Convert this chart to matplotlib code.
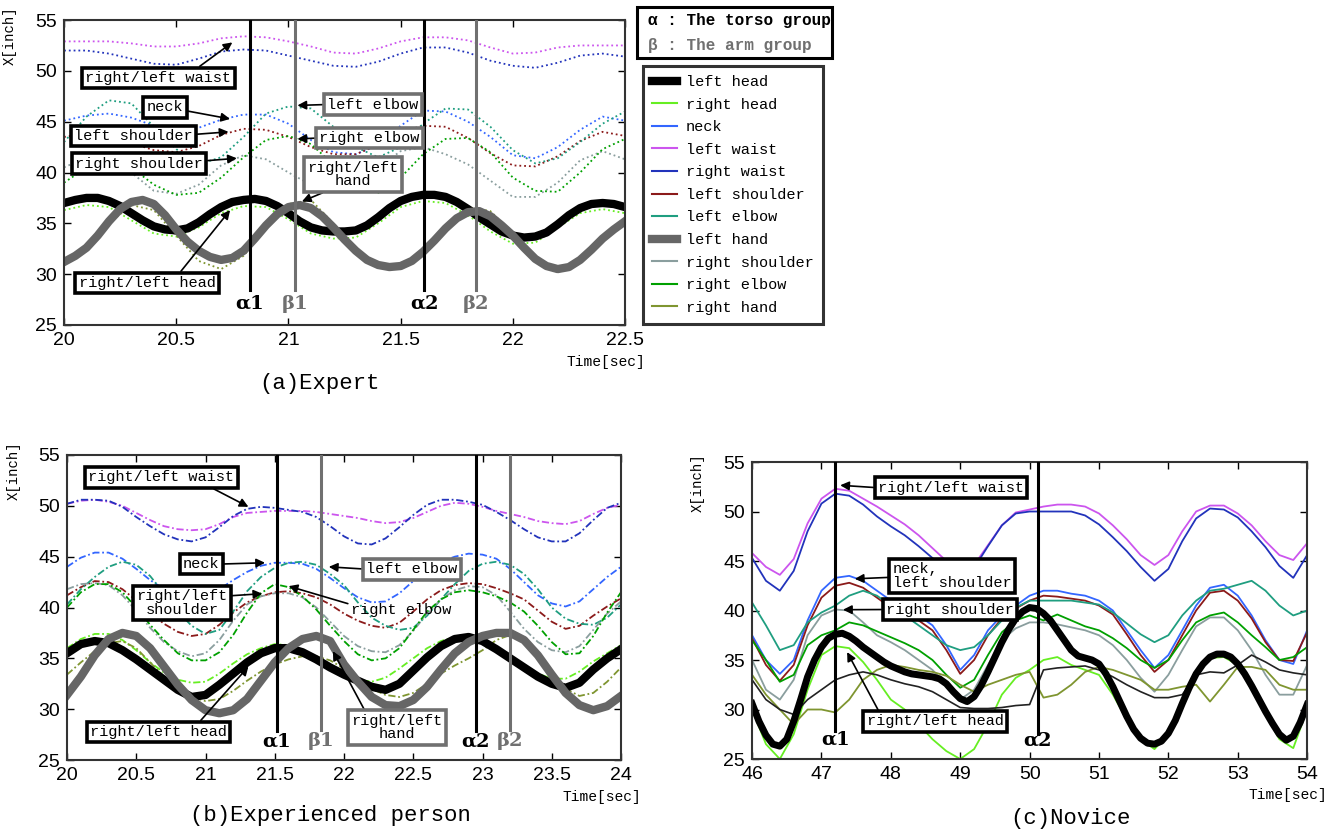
import numpy as np
import matplotlib.pyplot as plt
from matplotlib.lines import Line2D
from matplotlib.patches import Rectangle

MONO = ['Liberation Mono', 'DejaVu Sans Mono']
NARROW = ['Liberation Sans Narrow', 'Liberation Sans', 'DejaVu Sans']
plt.rcParams['font.family'] = NARROW

# ---- (a) Expert, thin curves sampled every 0.1 s, thick ones every 0.05 s ----
a_time = np.linspace(20.0, 22.5, 26)
a_time_fine = np.linspace(20.0, 22.5, 51)
a_left_head = [37.0, 37.3, 37.5, 37.5, 37.2, 36.7, 36.0, 35.3, 34.7, 34.4, 34.3, 34.5, 35.1,
               35.9, 36.6, 37.1, 37.3, 37.4, 37.2, 36.7, 36.0, 35.2, 34.6, 34.3, 34.2, 34.2,
               34.3, 34.8, 35.6, 36.5, 37.2, 37.6, 37.8, 37.8, 37.6, 37.1, 36.4, 35.6, 34.9,
               34.2, 33.8, 33.6, 33.7, 34.1, 34.9, 35.8, 36.5, 36.9, 37.0, 36.9, 36.6]
a_left_hand = [31.2, 31.8, 32.6, 33.8, 35.2, 36.4, 37.1, 37.3, 36.9, 35.8, 34.4, 33.2, 32.3,
               31.7, 31.4, 31.6, 32.3, 33.5, 34.8, 35.9, 36.6, 36.8, 36.5, 35.7, 34.6, 33.4,
               32.3, 31.4, 30.9, 30.7, 30.8, 31.3, 32.2, 33.3, 34.5, 35.5, 36.1, 36.2, 35.7,
               34.8, 33.8, 32.6, 31.5, 30.8, 30.5, 30.7, 31.4, 32.4, 33.5, 34.4, 35.2]
a_right_head = [36.3, 36.8, 36.6, 35.3, 34.0, 33.7, 34.6, 36.0, 36.7, 36.6, 35.4, 34.0, 33.5,
                33.6, 35.0, 36.6, 37.2, 37.0, 35.8, 34.2, 33.0, 33.1, 34.6, 36.0, 36.4, 36.0]
a_neck = [45.1, 45.6, 45.8, 45.4, 44.6, 44.1, 44.4, 45.2, 45.7, 45.7, 44.8, 43.2, 42.0,
          41.8, 42.7, 44.6, 46.1, 46.0, 45.0, 43.5, 41.7, 41.4, 42.5, 44.2, 45.5, 45.1]
a_left_waist = [52.9, 52.9, 52.9, 52.7, 52.4, 52.4, 52.7, 53.2, 53.4, 53.3, 52.9, 52.4, 51.8,
                51.7, 52.2, 52.9, 53.3, 53.3, 53.0, 52.3, 51.7, 51.8, 52.3, 52.5, 52.5, 52.5]
a_right_waist = [52.0, 52.0, 51.7, 51.2, 50.7, 50.6, 51.2, 51.9, 52.1, 52.0, 51.5, 51.0, 50.5,
                 50.4, 50.9, 51.7, 52.3, 52.3, 51.8, 51.0, 50.5, 50.3, 50.8, 51.5, 51.7, 51.4]
a_left_shoulder = [43.5, 43.8, 43.6, 42.9, 42.2, 42.0, 42.6, 43.7, 44.3, 44.2, 43.5, 42.5, 41.8,
                   41.8, 42.7, 44.0, 44.6, 44.5, 43.4, 41.9, 40.7, 40.6, 41.6, 43.1, 44.0, 43.6]
a_left_elbow = [43.0, 45.5, 47.1, 46.8, 44.5, 42.3, 40.8, 41.5, 43.5, 45.8, 46.5, 46.3, 44.5,
                42.5, 41.5, 42.5, 44.8, 46.3, 46.2, 44.5, 42.2, 40.9, 41.4, 43.0, 44.8, 46.0]
a_right_shoulder = [40.5, 41.5, 41.3, 40.0, 38.2, 37.9, 38.8, 40.7, 41.7, 41.3, 40.0, 38.8, 38.5,
                    38.8, 40.5, 42.1, 42.5, 41.8, 40.8, 39.2, 37.6, 37.6, 39.0, 41.2, 42.1, 41.3]
a_right_elbow = [39.0, 40.5, 41.5, 40.5, 38.8, 37.8, 38.0, 39.5, 41.5, 43.2, 43.6, 42.8, 40.8,
                 38.8, 38.0, 39.5, 41.8, 43.3, 43.4, 42.0, 39.5, 38.2, 38.1, 40.0, 42.3, 43.3]
a_right_hand = [30.9, 32.5, 35.0, 36.8, 36.3, 33.8, 31.3, 30.5, 31.8, 34.6, 36.9, 37.3, 35.0,
                32.3, 30.6, 30.6, 32.0, 34.5, 36.6, 36.2, 34.0, 31.2, 30.2, 31.2, 33.3, 35.5]

# ---- (b) Experienced person, sampled every 0.1 s ----
b_time = np.linspace(20.0, 24.0, 41)
b_left_head = [35.5, 36.4, 36.7, 36.5, 35.8, 34.9, 33.9, 32.9, 31.9, 31.2,
               31.4, 32.4, 33.5, 34.6, 35.5, 36.0, 36.0, 35.6, 34.9, 34.1,
               33.4, 32.8, 32.2, 31.9, 32.5, 33.8, 35.1, 36.2, 36.9, 37.1,
               36.7, 35.9, 35.0, 34.1, 33.2, 32.5, 32.1, 32.6, 33.9, 35.0, 35.9]
b_right_head = [36.0, 36.9, 37.4, 37.4, 36.8, 35.8, 34.6, 33.6, 32.9, 32.6,
                32.7, 33.5, 34.5, 35.4, 36.0, 36.4, 36.3, 35.8, 35.0, 34.2,
                33.4, 32.9, 32.7, 33.1, 34.0, 35.0, 36.0, 36.7, 37.1, 37.2,
                36.8, 36.1, 35.2, 34.3, 33.5, 33.0, 33.0, 33.7, 34.7, 35.5, 36.3]
b_neck = [44.0, 44.9, 45.4, 45.4, 44.8, 43.8, 42.7, 41.8, 41.2, 41.0,
          41.2, 41.8, 42.7, 43.5, 44.1, 44.4, 44.4, 44.3, 43.8, 42.9,
          41.9, 41.0, 40.5, 40.6, 41.4, 42.6, 43.7, 44.5, 45.0, 45.3,
          45.2, 44.8, 43.8, 42.5, 41.2, 40.4, 40.1, 40.6, 41.8, 43.0, 44.0]
b_left_waist = [50.2, 50.5, 50.6, 50.4, 50.0, 49.3, 48.6, 48.0, 47.7, 47.6,
                47.7, 48.2, 48.9, 49.3, 49.4, 49.5, 49.5, 49.5, 49.4, 49.2,
                49.0, 48.8, 48.5, 48.3, 48.4, 48.8, 49.4, 50.0, 50.3, 50.2,
                49.9, 49.5, 49.2, 48.9, 48.5, 48.3, 48.2, 48.5, 49.2, 49.8, 50.1]
b_right_waist = [50.2, 50.6, 50.6, 50.5, 49.9, 48.9, 48.0, 47.2, 46.7, 46.5,
                 46.9, 47.9, 49.0, 49.7, 49.9, 49.8, 49.6, 49.4, 48.9, 48.0,
                 47.0, 46.3, 46.2, 46.8, 47.9, 49.1, 50.1, 50.6, 50.6, 50.4,
                 50.1, 49.4, 48.6, 47.7, 46.9, 46.5, 46.5, 47.3, 48.6, 49.8, 50.3]
b_left_shoulder = [41.2, 42.0, 42.6, 42.5, 41.8, 40.7, 39.5, 38.4, 37.6, 37.2,
                   37.4, 38.3, 39.5, 40.5, 41.1, 41.5, 41.6, 41.4, 41.0, 40.3,
                   39.4, 38.7, 38.2, 38.0, 38.5, 39.6, 40.8, 41.7, 42.2, 42.4,
                   42.3, 41.9, 41.4, 40.8, 39.7, 38.6, 37.9, 38.2, 39.2, 40.1, 40.9]
b_left_elbow = [40.3, 41.8, 43.0, 44.0, 44.5, 44.2, 43.1, 41.4, 39.6, 38.2,
                37.4, 37.8, 39.6, 41.6, 43.0, 43.9, 44.4, 44.5, 44.2, 43.3,
                42.2, 40.5, 39.0, 38.2, 37.8, 38.0, 39.2, 40.8, 42.3, 43.6,
                44.3, 44.5, 44.2, 43.3, 41.8, 40.0, 38.9, 38.4, 38.3, 39.0, 40.3]
b_left_hand = [31.4, 33.2, 35.3, 36.9, 37.5, 37.2, 36.0, 34.2, 32.4, 30.9,
               29.9, 29.6, 29.9, 31.0, 32.8, 34.6, 36.0, 36.9, 37.2, 36.7,
               34.4, 32.7, 31.2, 30.4, 30.3, 30.9, 32.2, 33.9, 35.5, 36.6,
               37.2, 37.5, 37.5, 36.8, 35.3, 33.4, 31.6, 30.4, 29.9, 30.3, 31.3]
b_right_shoulder = [41.8, 42.3, 42.4, 42.2, 41.2, 39.7, 38.0, 36.6, 35.7, 35.2,
                    35.5, 36.8, 38.7, 40.3, 41.1, 41.4, 41.4, 41.0, 40.0, 38.6,
                    37.2, 36.2, 35.7, 35.6, 36.3, 37.7, 39.4, 40.8, 41.7, 42.1,
                    42.0, 41.2, 39.6, 37.9, 36.6, 35.8, 35.6, 36.2, 37.8, 39.4, 40.6]
b_right_elbow = [40.0, 41.5, 42.3, 42.3, 41.5, 40.0, 38.3, 36.8, 35.5, 34.8,
                 34.8, 35.6, 37.3, 39.5, 41.4, 42.3, 42.0, 41.1, 39.8, 38.2,
                 36.7, 35.4, 34.8, 35.0, 36.0, 37.8, 39.6, 40.8, 41.5, 41.7,
                 41.5, 41.1, 40.5, 39.6, 38.2, 36.6, 35.4, 35.5, 37.2, 39.5, 41.5]
b_right_hand = [33.4, 34.6, 35.7, 36.5, 36.7, 36.0, 34.6, 33.2, 32.0, 31.2,
                30.8, 31.0, 31.8, 32.8, 33.7, 34.4, 34.9, 35.2, 35.2, 34.8,
                34.0, 33.0, 32.0, 31.4, 31.2, 31.6, 32.5, 33.5, 34.3, 35.0,
                35.8, 36.8, 37.3, 36.6, 35.0, 33.3, 32.0, 31.3, 31.6, 32.7, 34.1]

# ---- (c) Novice, thin curves every 0.2 s, left head every 0.1 s ----
c_time = np.linspace(46.0, 54.0, 41)
c_time_fine = np.linspace(46.0, 54.0, 81)
c_left_head = [30.6, 28.8, 27.4, 26.5, 26.3, 27.0, 28.8, 31.0, 33.3, 35.0,
               36.3, 37.2, 37.6, 37.7, 37.4, 36.9, 36.3, 35.8, 35.3, 34.8,
               34.4, 34.1, 33.8, 33.6, 33.5, 33.4, 33.3, 33.1, 32.6, 31.8,
               31.1, 30.8, 31.3, 32.4, 33.8, 35.3, 36.8, 38.1, 39.2, 39.9,
               40.3, 40.2, 39.7, 39.0, 38.0, 37.0, 36.0, 35.4, 35.2, 35.0,
               34.6, 33.6, 32.3, 30.8, 29.3, 28.0, 27.1, 26.6, 26.5, 26.8,
               27.6, 28.9, 30.6, 32.2, 33.6, 34.6, 35.3, 35.6, 35.6, 35.3,
               34.6, 33.6, 32.4, 31.1, 29.8, 28.6, 27.5, 26.9, 27.3, 28.7, 30.5]
c_right_head = [30.0, 26.5, 25.0, 27.5, 32.0, 35.5, 36.4, 36.2, 34.8, 33.0,
                31.0, 30.0, 28.5, 27.0, 25.8, 25.0, 26.0, 28.5, 31.5, 33.2,
                34.0, 35.0, 35.3, 34.5, 34.0, 33.5, 31.5, 29.0, 27.0, 26.0,
                27.5, 30.5, 33.5, 35.2, 35.3, 34.5, 32.0, 29.5, 27.0, 26.1, 30.0]
c_neck = [37.5, 35.0, 33.6, 35.0, 39.0, 42.0, 43.3, 43.5, 43.0, 42.0,
          41.0, 40.3, 39.5, 38.5, 36.5, 34.0, 35.5, 38.0, 39.5, 40.5,
          41.5, 42.0, 42.0, 41.7, 41.5, 41.0, 40.0, 38.0, 36.0, 34.2,
          35.5, 38.0, 40.5, 42.3, 42.6, 41.5, 39.5, 37.0, 35.0, 34.6, 38.0]
c_left_waist = [45.8, 44.4, 43.6, 45.2, 48.8, 51.3, 52.3, 52.1, 51.3, 50.5,
                49.6, 48.7, 47.6, 46.3, 45.0, 44.2, 44.6, 46.6, 48.6, 49.9,
                50.2, 50.5, 50.7, 50.7, 50.5, 49.8, 48.6, 47.2, 45.6, 44.6,
                45.6, 48.0, 50.0, 50.6, 50.6, 49.8, 48.6, 47.0, 45.6, 45.1, 46.8]
c_right_waist = [45.3, 43.0, 42.0, 44.0, 48.0, 50.8, 51.8, 51.6, 50.7, 49.5,
                 48.5, 47.6, 46.5, 45.3, 44.0, 43.5, 44.3, 46.5, 48.6, 49.8,
                 50.0, 50.0, 50.0, 50.0, 49.6, 48.7, 47.4, 46.0, 44.4, 43.0,
                 44.2, 47.0, 49.3, 50.3, 50.2, 49.4, 48.0, 46.4, 44.5, 43.3, 45.6]
c_left_shoulder = [37.2, 34.5, 32.9, 34.5, 38.5, 41.3, 42.5, 42.8, 42.3, 41.3,
                   40.3, 39.8, 39.0, 38.0, 36.0, 33.6, 35.0, 37.5, 39.2, 40.2,
                   41.0, 41.5, 41.4, 41.2, 41.0, 40.5, 39.6, 37.6, 35.5, 33.8,
                   35.0, 37.5, 40.0, 41.8, 42.0, 41.0, 39.2, 36.8, 35.0, 34.9, 37.8]
c_left_elbow = [40.8, 38.5, 36.0, 36.5, 38.8, 39.8, 40.5, 41.5, 42.0, 41.5,
                40.5, 39.5, 38.5, 37.5, 36.5, 36.0, 36.3, 37.5, 39.0, 40.3,
                41.0, 41.0, 41.0, 41.0, 40.8, 40.6, 39.8, 38.7, 37.6, 36.8,
                37.5, 39.5, 41.0, 42.0, 42.2, 42.6, 43.0, 42.0, 40.5, 39.5, 40.0]
c_left_hand = [33.0, 31.0, 30.0, 29.5, 31.0, 32.0, 33.0, 33.5, 33.8, 33.5,
               33.0, 32.6, 32.3, 31.8, 31.0, 30.2, 30.1, 30.1, 30.2, 30.4,
               30.5, 34.0, 34.2, 34.3, 34.4, 34.0, 33.3, 32.5, 31.8, 31.2,
               31.2, 31.5, 33.5, 33.8, 33.7, 34.5, 35.5, 34.8, 34.0, 33.7, 33.5]
c_right_shoulder = [35.0, 32.0, 31.0, 33.0, 37.5, 39.5, 40.1, 40.0, 38.8, 37.5,
                    36.8, 36.0, 35.0, 34.0, 32.5, 31.0, 32.0, 34.5, 37.0, 38.2,
                    38.8, 38.8, 38.6, 38.3, 38.0, 37.5, 36.5, 35.0, 33.2, 31.8,
                    33.5, 36.0, 38.4, 39.3, 39.3, 38.0, 36.0, 33.5, 31.5, 31.5, 34.5]
c_right_elbow = [37.0, 35.0, 32.8, 33.5, 36.5, 37.5, 38.0, 38.8, 38.5, 37.9,
                 37.3, 36.7, 36.0, 35.0, 33.5, 32.2, 33.0, 35.5, 37.8, 39.0,
                 39.5, 39.0, 39.6, 39.0, 38.4, 38.0, 37.2, 36.2, 35.0, 34.2,
                 35.0, 37.0, 38.8, 39.5, 39.8, 38.8, 37.5, 36.3, 35.0, 35.3, 36.3]
c_right_hand = [33.5, 31.5, 30.0, 28.5, 30.0, 30.0, 29.7, 31.0, 33.0, 34.0,
                34.5, 34.3, 34.0, 33.8, 33.4, 32.5, 31.8, 32.5, 33.0, 33.5,
                33.8, 31.2, 31.5, 32.5, 33.8, 34.3, 34.0, 33.5, 33.0, 32.0,
                32.0, 32.3, 32.5, 30.8, 32.5, 34.3, 34.3, 34.0, 32.5, 32.0, 32.0]

names = ['left head', 'right head', 'neck', 'left waist', 'right waist', 'left shoulder',
         'left elbow', 'left hand', 'right shoulder', 'right elbow', 'right hand']
colors = {'left head': 'black', 'right head': '#66ee22', 'neck': '#3366ff',
          'left waist': '#cc55ee', 'right waist': '#2233bb', 'left shoulder': '#8b1a1a',
          'left elbow': '#1f9e80', 'left hand': '#666666', 'right shoulder': '#8a9e9e',
          'right elbow': '#00a000', 'right hand': '#7f9530'}

a_data = dict(zip(names, [a_left_head, a_right_head, a_neck, a_left_waist, a_right_waist,
                          a_left_shoulder, a_left_elbow, a_left_hand, a_right_shoulder,
                          a_right_elbow, a_right_hand]))
b_data = dict(zip(names, [b_left_head, b_right_head, b_neck, b_left_waist, b_right_waist,
                          b_left_shoulder, b_left_elbow, b_left_hand, b_right_shoulder,
                          b_right_elbow, b_right_hand]))
c_data = dict(zip(names, [c_left_head, c_right_head, c_neck, c_left_waist, c_right_waist,
                          c_left_shoulder, c_left_elbow, c_left_hand, c_right_shoulder,
                          c_right_elbow, c_right_hand]))

ALPHA_C = 'black'
BETA_C = '#707070'


def times_for(data, name, t, t_fine):
    return t_fine if len(data[name]) == len(t_fine) else t


def draw_curves(ax, t, t_fine, data, ls, thick_hand=True):
    for name in names:
        if name in ('left head', 'left hand'):
            continue
        ax.plot(t, data[name], color=colors[name], ls=ls, lw=1.3)
    th = times_for(data, 'left head', t, t_fine)
    tl = times_for(data, 'left hand', t, t_fine)
    if thick_hand:
        ax.plot(th, data['left head'], color='black', lw=6, solid_joinstyle='round')
        ax.plot(tl, data['left hand'], color='#666666', lw=6, solid_joinstyle='round')
    else:
        ax.plot(tl, data['left hand'], color='#222222', lw=1.2)
        ax.plot(th, data['left head'], color='black', lw=5, solid_joinstyle='round')


def style_axes(ax, xlim, xticks, ylab_y=0.95):
    ax.set_xlim(*xlim)
    ax.set_ylim(25, 55)
    ax.set_xticks(xticks)
    ax.set_xticklabels(['{:g}'.format(v) for v in xticks])
    ax.set_yticks([25, 30, 35, 40, 45, 50, 55])
    ax.tick_params(direction='in', top=True, right=True, length=5, width=1,
                   labelsize=14, pad=5)
    for s in ax.spines.values():
        s.set_linewidth(1.5)
        s.set_color('#333333')
    ax.text(-0.097, ylab_y, 'X[inch]', rotation=90, transform=ax.transAxes, family=MONO,
            fontsize=10, ha='center', va='center')
    ax.text(0.965, -0.12, 'Time[sec]', transform=ax.transAxes, family=MONO,
            fontsize=10.5, ha='center', va='center')


def note(ax, text, xy, xytext, relpos=(0.5, 0.5), ec='black', box=True, align='center'):
    bbox = dict(boxstyle='square,pad=0.22', fc='white', ec=ec, lw=2.6) if box else None
    ax.annotate(text, xy=xy, xytext=xytext, ha='center', va='center', family=MONO,
                fontsize=11, multialignment=align, linespacing=0.95, bbox=bbox, zorder=6,
                arrowprops=dict(arrowstyle='-|>', color='black', lw=1.2, mutation_scale=13,
                                shrinkA=0, shrinkB=0, relpos=relpos))


def marker_line(ax, x, ybot, label, color, ylab):
    ax.plot([x, x], [55, ybot], color=color, lw=2.2, zorder=4)
    ax.text(x, ylab, label, color=color, ha='center', va='center', fontsize=14,
            fontweight='bold', family='DejaVu Serif', zorder=6)


fig = plt.figure(figsize=(13.43, 8.35), dpi=100)
ax_a = fig.add_axes([0.0477, 0.6108, 0.4177, 0.3652])
ax_b = fig.add_axes([0.0499, 0.0898, 0.4125, 0.3653])
ax_c = fig.add_axes([0.5600, 0.0910, 0.4133, 0.3557])

# (a)
draw_curves(ax_a, a_time, a_time_fine, a_data, ':')
style_axes(ax_a, (20, 22.5), [20, 20.5, 21, 21.5, 22, 22.5])
marker_line(ax_a, 20.828, 28.4, 'α1', ALPHA_C, 27.1)
marker_line(ax_a, 21.03, 28.4, 'β1', BETA_C, 27.1)
marker_line(ax_a, 21.605, 28.4, 'α2', ALPHA_C, 27.1)
marker_line(ax_a, 21.837, 28.4, 'β2', BETA_C, 27.1)
note(ax_a, 'right/left waist', (20.75, 52.8), (20.42, 49.3), relpos=(0.74, 1))
note(ax_a, 'neck', (20.74, 45.27), (20.45, 46.4), relpos=(1, 0.3))
note(ax_a, 'left shoulder', (20.733, 44.0), (20.31, 43.6), relpos=(1, 0.6))
note(ax_a, 'right shoulder', (20.77, 41.4), (20.335, 40.86), relpos=(1, 0.7))
note(ax_a, 'left elbow', (21.04, 46.6), (21.375, 46.69), relpos=(0, 0.5), ec=BETA_C)
note(ax_a, 'right elbow', (21.04, 43.3), (21.36, 43.4), relpos=(0, 0.5), ec=BETA_C)
note(ax_a, 'right/left\nhand', (21.06, 37.15), (21.286, 39.8), relpos=(0.29, 0), ec=BETA_C)
note(ax_a, 'right/left head', (20.74, 36.3), (20.37, 29.14), relpos=(0.72, 1))

# (b)
draw_curves(ax_b, b_time, b_time, b_data, (0, (4, 1.5, 1, 1.5)))
style_axes(ax_b, (20, 24), [20, 20.5, 21, 21.5, 22, 22.5, 23, 23.5, 24])
marker_line(ax_b, 21.515, 27.9, 'α1', ALPHA_C, 26.85)
marker_line(ax_b, 21.837, 28.0, 'β1', BETA_C, 26.85)
marker_line(ax_b, 22.95, 27.9, 'α2', ALPHA_C, 26.85)
marker_line(ax_b, 23.2, 28.0, 'β2', BETA_C, 26.85)
note(ax_b, 'right/left waist', (21.31, 49.9), (20.68, 52.8), relpos=(0.8, 0))
note(ax_b, 'neck', (21.43, 44.4), (20.97, 44.27), relpos=(1, 0.5))
note(ax_b, 'right/left\nshoulder', (21.41, 41.36), (20.83, 40.46), relpos=(1, 0.75))
note(ax_b, 'left elbow', (21.89, 44.0), (22.49, 43.77), relpos=(0, 0.5), ec=BETA_C)
note(ax_b, 'right elbow', (21.6, 42.1), (22.41, 39.75), relpos=(0, 0.9), box=False)
note(ax_b, 'right/left\nhand', (21.92, 35.7), (22.38, 28.2), relpos=(0.17, 1), ec=BETA_C)
note(ax_b, 'right/left head', (21.31, 34.2), (20.66, 27.76), relpos=(0.78, 1))

# (c)
draw_curves(ax_c, c_time, c_time_fine, c_data, '-', thick_hand=False)
style_axes(ax_c, (46, 54), [46, 47, 48, 49, 50, 51, 52, 53, 54], ylab_y=0.93)
marker_line(ax_c, 47.2, 27.85, 'α1', ALPHA_C, 27.0)
marker_line(ax_c, 50.12, 27.5, 'α2', ALPHA_C, 26.85)
note(ax_c, 'right/left waist', (47.27, 52.65), (48.865, 52.4), relpos=(0, 0.5))
note(ax_c, 'neck,\nleft shoulder', (47.48, 43.2), (48.88, 43.5), relpos=(0, 0.45), align='left')
note(ax_c, 'right shoulder', (47.31, 40.08), (48.85, 40.1), relpos=(0, 0.5))
note(ax_c, 'right/left head', (47.37, 35.8), (48.64, 28.8), relpos=(0.1, 1))

# captions
fig.text(0.238, 0.541, '(a)Expert', family=MONO, fontsize=16, ha='center', va='center')
fig.text(0.246, 0.023, '(b)Experienced person', family=MONO, fontsize=16, ha='center', va='center')
fig.text(0.797, 0.020, '(c)Novice', family=MONO, fontsize=16, ha='center', va='center')

# group box
fig.add_artist(Rectangle((0.4743, 0.9305), 0.1452, 0.0611, transform=fig.transFigure,
                         fill=False, ec='black', lw=2.2))
fig.text(0.4825, 0.976, 'α : The torso group', family=MONO, fontsize=11.5,
         fontweight='bold', va='center')
fig.text(0.4825, 0.946, 'β : The arm group', family=MONO, fontsize=11.5,
         fontweight='bold', va='center', color=BETA_C)

# legend
handles = []
for name in names:
    lw = 6 if name in ('left head', 'left hand') else 1.5
    handles.append(Line2D([], [], color=colors[name], lw=lw))
leg = fig.legend(handles, names, loc='upper left', bbox_to_anchor=(0.4788, 0.921),
                 borderaxespad=0, frameon=True, fancybox=False, edgecolor='black',
                 prop={'family': MONO, 'size': 11}, handlelength=1.6,
                 labelspacing=0.56, borderpad=0.6, handletextpad=0.6)
leg.get_frame().set_linewidth(2.2)

fig.savefig('out.png', dpi=100)
